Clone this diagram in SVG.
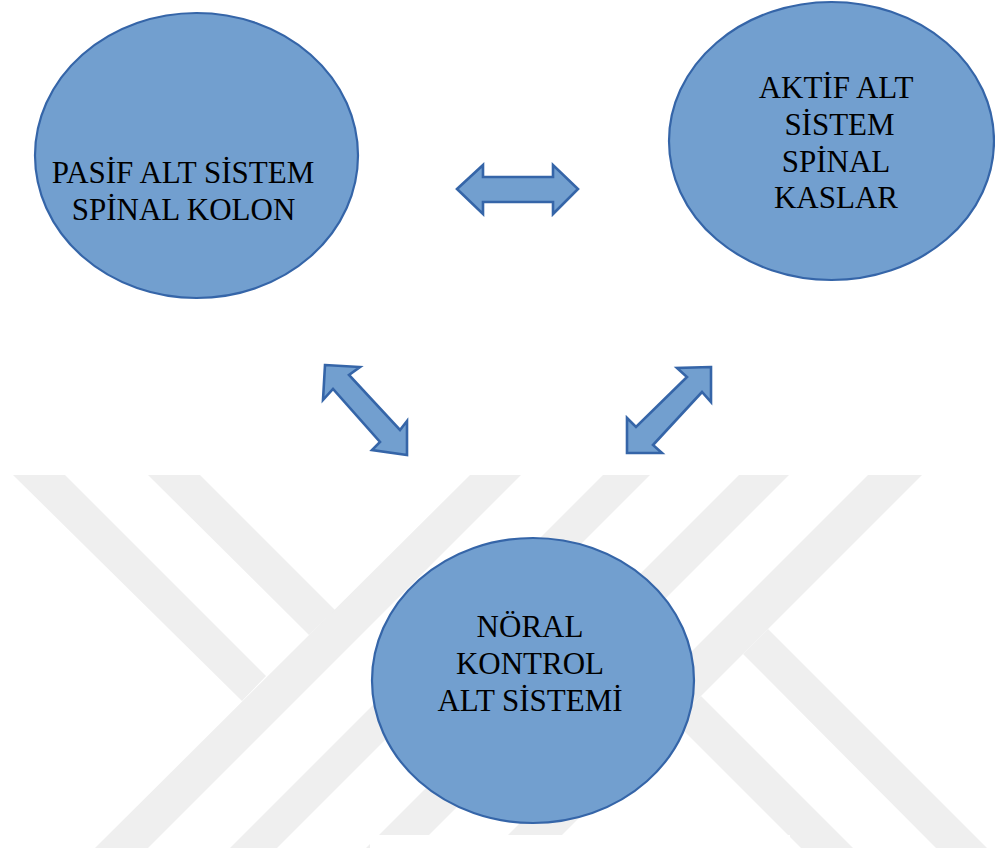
<svg xmlns="http://www.w3.org/2000/svg" width="995" height="851" viewBox="0 0 995 851">
<style>
.wm{fill:#efefef;stroke:none}
.node{fill:#729fcf;stroke:#3565a8;stroke-width:2.2}
.conn{fill:#729fcf;stroke:#3565a8;stroke-width:2.6;stroke-linejoin:miter}
.lbl{font-family:"Liberation Serif","Times New Roman",serif;font-size:31px;fill:#000;text-anchor:middle}
</style>
<rect x="0" y="0" width="995" height="851" fill="#ffffff"/>
<g id="watermark">
  <polygon class="wm" points="470,475 521,475 148,848 95,848"/>
  <polygon class="wm" points="603,475 650,475 277,848 230,848"/>
  <polygon class="wm" points="739,475 789,475 416,848 366,848"/>
  <polygon class="wm" points="868,475 922,475 549,848 495,848"/>
  <polygon class="wm" points="13,475 65,475 266,676 242,701"/>
  <polygon class="wm" points="148,475 200,475 335,610 309,635"/>
  <polygon class="wm" points="675,722 701,696 853,848 801,848"/>
  <polygon class="wm" points="743,654 768,629 987,848 936,848"/>
  <rect x="370" y="835" width="420" height="16" fill="#ffffff"/>
</g>
<g id="connectors">
  <polygon class="conn" points="457,189 483,165 483,177 553,177 553,165 578,189 553,214 553,202 483,202 483,214"/>
  <polygon class="conn" points="325,365 360,367 349,375 400,430 407,421 407,455 372,450 380,442 333,389 323,400"/>
  <polygon class="conn" points="711,367 677,368 687,377 636,427 627,418 627,453 662,453 653,445 702,392 711,402"/>
</g>
<g id="node-pasif">
  <ellipse class="node" cx="196.5" cy="155.5" rx="161.5" ry="142.5"/>
  <text class="lbl" x="183" y="183">PASİF ALT SİSTEM</text>
  <text class="lbl" x="183.5" y="220">SPİNAL KOLON</text>
</g>
<g id="node-aktif">
  <ellipse class="node" cx="831.5" cy="141" rx="162.5" ry="139"/>
  <text class="lbl" x="836" y="98">AKTİF ALT</text>
  <text class="lbl" x="839.5" y="135">SİSTEM</text>
  <text class="lbl" x="836" y="172">SPİNAL</text>
  <text class="lbl" x="836" y="208">KASLAR</text>
</g>
<g id="node-noral">
  <ellipse class="node" cx="533" cy="680.5" rx="161" ry="142.5"/>
  <text class="lbl" x="530" y="637">NÖRAL</text>
  <text class="lbl" x="530" y="674">KONTROL</text>
  <text class="lbl" x="530" y="711">ALT SİSTEMİ</text>
</g>
</svg>
